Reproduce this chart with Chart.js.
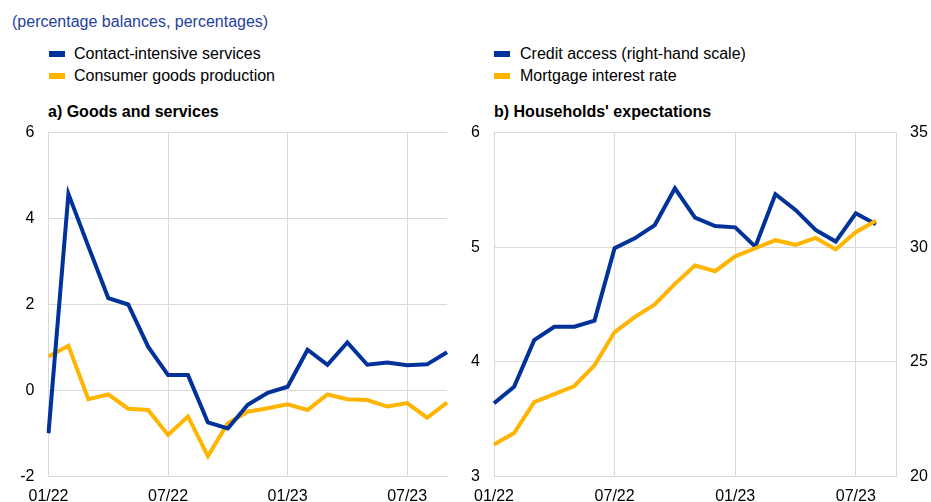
<!DOCTYPE html>
<html>
<head>
<meta charset="utf-8">
<script src="https://cdn.jsdelivr.net/npm/chart.js@4.4.0/dist/chart.umd.min.js"></script>
<style>
  body { margin: 0; background: #fff; font-family: "Liberation Sans", Arial, sans-serif; }
  #page { position: relative; width: 931px; height: 502px; overflow: hidden; }
  .txt { position: absolute; font-size: 16px; line-height: 18px; color: #000; white-space: nowrap; }
  .sub { color: #1f3f9e; }
  .ttl { font-weight: bold; }
  .key { position: absolute; width: 16px; height: 6px; }
  canvas { position: absolute; }
</style>
</head>
<body>
<div id="page">
  <div class="txt sub" style="left:12px; top:13px;">(percentage balances, percentages)</div>

  <div class="key" style="left:49px; top:51px; background:#003299;"></div>
  <div class="txt" style="left:74px; top:45px;">Contact-intensive services</div>
  <div class="key" style="left:49px; top:73px; background:#ffb400;"></div>
  <div class="txt" style="left:74px; top:67px;">Consumer goods production</div>

  <div class="key" style="left:494px; top:51px; background:#003299;"></div>
  <div class="txt" style="left:520px; top:45px;">Credit access (right-hand scale)</div>
  <div class="key" style="left:494px; top:73px; background:#ffb400;"></div>
  <div class="txt" style="left:520px; top:67px;">Mortgage interest rate</div>

  <div class="txt ttl" style="left:48px; top:103px;">a) Goods and services</div>
  <div class="txt ttl" style="left:494px; top:103px;">b) Households' expectations</div>

  <canvas id="chartA" width="465" height="402" style="left:0; top:100px; width:465px; height:402px;"></canvas>
  <canvas id="chartB" width="471" height="402" style="left:460px; top:100px; width:471px; height:402px;"></canvas>
</div>
<script>
var months = ['01/22', '02/22', '03/22', '04/22', '05/22', '06/22', '07/22', '08/22', '09/22', '10/22', '11/22', '12/22',
              '01/23', '02/23', '03/23', '04/23', '05/23', '06/23', '07/23', '08/23', '09/23'];

// a) Goods and services
var contactServices = [-0.99, 4.57, 3.35, 2.15, 2.0, 1.02, 0.36, 0.36, -0.74, -0.88, -0.33, -0.05,
                       0.09, 0.95, 0.6, 1.12, 0.6, 0.65, 0.59, 0.61, 0.89];
var consumerGoods = [0.79, 1.04, -0.2, -0.09, -0.42, -0.45, -1.03, -0.6, -1.52, -0.76, -0.49, -0.41,
                     -0.32, -0.45, -0.09, -0.2, -0.22, -0.37, -0.29, -0.63, -0.28];

// b) Households' expectations
var creditAccess = [23.2, 23.92, 25.95, 26.53, 26.53, 26.8, 29.95, 30.38, 30.96, 32.56, 31.28, 30.92,
                    30.86, 30.02, 32.3, 31.62, 30.75, 30.24, 31.47, 31.0];
var mortgageRate = [3.28, 3.38, 3.65, 3.72, 3.79, 3.97, 4.26, 4.39, 4.5, 4.68, 4.84, 4.79,
                    4.92, 4.99, 5.06, 5.02, 5.08, 4.98, 5.13, 5.23];

var BLUE = '#003299', YELLOW = '#ffb400', GRID = '#d9d9d9';
var tickFont = { family: 'Liberation Sans, Arial, sans-serif', size: 16 };

Chart.defaults.animation = false;
Chart.defaults.color = '#000';

function xAxis() {
    return {
        type: 'category',
        offset: false,
        grid: { color: GRID, drawTicks: false, lineWidth: 1 },
        border: { color: GRID },
        ticks: {
            autoSkip: false, maxRotation: 0, padding: 10, font: tickFont,
            callback: function (v, i) { return i % 6 === 0 ? months[i] : null; }
        },
        afterFit: function (s) { s.height = 25.3; }
    };
}

function lineSet(label, data, color, axis) {
    return {
        label: label, data: data, borderColor: color, backgroundColor: color,
        borderWidth: 4, pointRadius: 0, tension: 0, yAxisID: axis
    };
}

new Chart(document.getElementById('chartA'), {
    type: 'line',
    data: {
        labels: months,
        datasets: [
            lineSet('Contact-intensive services', contactServices, BLUE, 'y'),
            lineSet('Consumer goods production', consumerGoods, YELLOW, 'y')
        ]
    },
    options: {
        responsive: false,
        layout: { padding: { top: 32.3, right: 18, left: 0, bottom: 0 } },
        plugins: { legend: { display: false }, tooltip: { enabled: false } },
        scales: {
            x: xAxis(),
            y: {
                min: -2, max: 6,
                grid: { color: GRID, drawTicks: false },
                border: { color: GRID },
                ticks: { stepSize: 2, padding: 14, font: tickFont },
                afterFit: function (s) { s.width = 48.5; }
            }
        }
    }
});

new Chart(document.getElementById('chartB'), {
    type: 'line',
    data: {
        labels: months,
        datasets: [
            lineSet('Mortgage interest rate', mortgageRate, YELLOW, 'y'),
            lineSet('Credit access (right-hand scale)', creditAccess, BLUE, 'y1')
        ]
    },
    options: {
        responsive: false,
        layout: { padding: { top: 32.3, right: 0, left: 0, bottom: 0 } },
        plugins: { legend: { display: false }, tooltip: { enabled: false } },
        scales: {
            x: xAxis(),
            y: {
                position: 'left', min: 3, max: 6,
                grid: { color: GRID, drawTicks: false },
                border: { color: GRID },
                ticks: { stepSize: 1, padding: 14, font: tickFont },
                afterFit: function (s) { s.width = 34; }
            },
            y1: {
                position: 'right', min: 20, max: 35,
                grid: { drawOnChartArea: false, drawTicks: false },
                border: { color: GRID },
                ticks: { stepSize: 5, padding: 14, font: tickFont },
                afterFit: function (s) { s.width = 35; }
            }
        }
    }
});
</script>
</body>
</html>
